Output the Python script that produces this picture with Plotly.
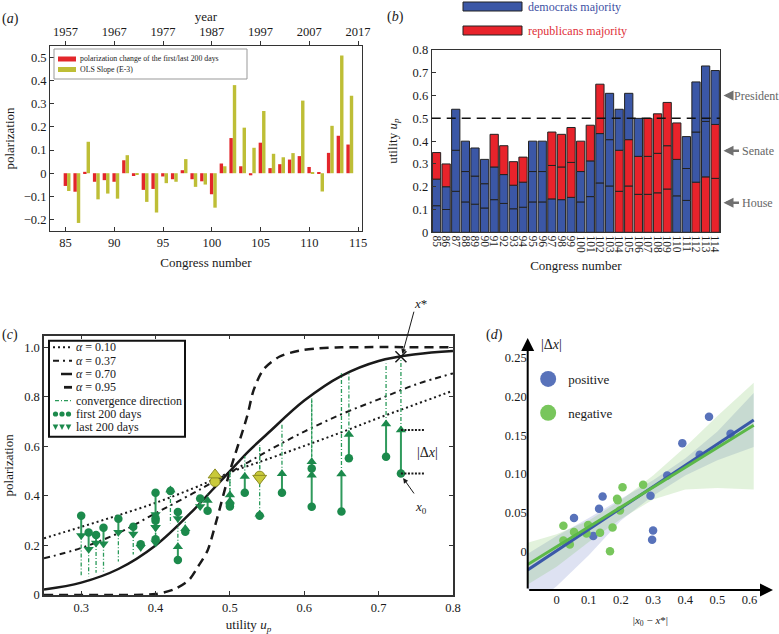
import plotly.graph_objects as go

FONT = "Liberation Serif"
INK = "#1a1a1a"

# ---------------- data ----------------
congress = list(range(85, 115))
year_ticks = [85, 90, 95, 100, 105, 110, 115]
year_labels = ["1957", "1967", "1977", "1987", "1997", "2007", "2017"]

# (a) polarization change (first/last 200 days) and OLS slope (E-3)
pol_change = [-0.055, -0.080, 0.006, -0.037, -0.030, -0.037, 0.056, -0.012, -0.072, -0.068,
              -0.014, -0.026, 0.013, -0.026, -0.035, -0.091, 0.042, 0.152, 0.030, -0.009,
              0.132, 0.022, 0.039, 0.059, 0.074, 0.027, 0.004, 0.088, 0.162, 0.124]
ols_slope = [-0.077, -0.215, 0.136, -0.113, -0.088, -0.110, 0.078, -0.004, -0.124, -0.170,
             -0.043, -0.037, 0.061, -0.059, -0.049, -0.149, 0.030, 0.381, 0.197, 0.110,
             0.269, 0.084, 0.069, 0.087, 0.314, 0.001, -0.079, 0.205, 0.509, 0.335]

# (b) utility u_p and majority party of House / Senate / President
utility = [0.35, 0.30, 0.54, 0.40, 0.37, 0.32, 0.43, 0.38, 0.31, 0.33,
           0.40, 0.40, 0.44, 0.43, 0.46, 0.40, 0.47, 0.65, 0.61, 0.54,
           0.61, 0.50, 0.50, 0.52, 0.57, 0.48, 0.42, 0.66, 0.73, 0.71]
house = list("DDDDDDDDDDDDDDDDDDDRRRRRRDDRRR")
senate = list("DDDDDDDDDDDDRRRDDDDRRRRRRDDDDR")
president = list("RRDDDDRRRRDDRRRRRRDDDDRRRRDDDD")
majority_line = 0.5

# (c) model curves x*(u_p) for several alpha
curve_u = [0.25, 0.30, 0.35, 0.40, 0.45, 0.475, 0.50, 0.525, 0.55, 0.60, 0.65, 0.70, 0.75, 0.80]
curve_a010 = [0.229, 0.275, 0.322, 0.372, 0.43, 0.462, 0.495, 0.522, 0.548, 0.602, 0.657, 0.715, 0.77, 0.825]
curve_a037 = [0.148, 0.19, 0.25, 0.33, 0.41, 0.452, 0.495, 0.537, 0.58, 0.66, 0.73, 0.79, 0.85, 0.895]
curve_a070 = [0.022, 0.05, 0.105, 0.2, 0.34, 0.42, 0.50, 0.58, 0.65, 0.785, 0.885, 0.945, 0.972, 0.985]
curve_u095 = [0.25, 0.35, 0.40, 0.425, 0.445, 0.457, 0.47, 0.481, 0.50, 0.523, 0.532, 0.545,
              0.567, 0.594, 0.616, 0.65, 0.80]
curve_a095 = [0.0, 0.0, 0.004, 0.023, 0.061, 0.114, 0.18, 0.29, 0.50, 0.72, 0.828, 0.91,
              0.963, 0.987, 0.995, 1.0, 1.0]

first200 = [0.308, 0.320, 0.320, 0.310, 0.276, 0.242, 0.141, 0.205, 0.252, 0.272,
            0.225, 0.300, 0.255, 0.335, 0.390, 0.413, 0.340, 0.337, 0.511, 0.480,
            0.356, 0.357, 0.365, 0.413, 0.413, 0.458, 0.420, 0.552, 0.491, 0.558]
last200 = [0.253, 0.240, 0.326, 0.273, 0.246, 0.210, 0.195, 0.193, 0.185, 0.207,
           0.211, 0.274, 0.268, 0.309, 0.357, 0.325, 0.382, 0.489, 0.538, 0.471,
           0.484, 0.379, 0.404, 0.478, 0.490, 0.485, 0.424, 0.648, 0.666, 0.690]
conv_target = [0.135, 0.08, 0.606, 0.2, 0.164, 0.09, 0.27, 0.17, 0.075, 0.095,
               0.2, 0.2, 0.3, 0.27, 0.37, 0.2, 0.41, 0.895, 0.794, 0.606,
               0.794, 0.5, 0.5, 0.56, 0.693, 0.45, 0.29, 0.895, 0.962, 0.935]
highlight = [104, 110]
x_star_congress = 113

# (d) |dx| against |x0 - x*|
pos_x = [0.054, 0.114, 0.132, 0.143, 0.292, 0.297, 0.300, 0.344, 0.391, 0.445, 0.474, 0.541]
pos_y = [0.043, 0.020, 0.055, 0.071, 0.072, 0.015, 0.027, 0.098, 0.140, 0.125, 0.174, 0.152]
neg_x = [0.021, 0.021, 0.041, 0.054, 0.098, 0.093, 0.135, 0.174, 0.166, 0.188, 0.190, 0.197, 0.205, 0.269]
neg_y = [0.033, 0.014, 0.009, 0.025, 0.034, 0.023, 0.024, 0.031, 0.000, 0.068, 0.066, 0.053, 0.083, 0.086]
fit_x = [-0.09, 0.613]
pos_fit = [-0.024, 0.170]
neg_fit = [-0.017, 0.163]
band_x = [-0.09, 0.0, 0.1, 0.2, 0.3, 0.4, 0.5, 0.613]
pos_hi = [-0.003, 0.02, 0.043, 0.068, 0.092, 0.12, 0.155, 0.205]
pos_lo = [-0.075, -0.045, -0.005, 0.04, 0.072, 0.098, 0.118, 0.135]
neg_hi = [0.011, 0.022, 0.04, 0.066, 0.098, 0.135, 0.175, 0.218]
neg_lo = [-0.043, -0.02, 0.012, 0.042, 0.067, 0.08, 0.082, 0.08]

# ---------------- colours ----------------
RED_A = "#e3262b"
OLIVE = "#bebe36"
BLUE_B = "#3b57a6"
RED_B = "#e8232b"
GREEN = "#1c8a4c"
YELLOW = "#c9c93a"
BLUE_D = "#3a58a8"
GREEN_D = "#5cb848"

W, H = 779, 634
def px(x):
    return x / W
def py(y):
    return 1 - y / H

fig = go.Figure()

# ---------------- (a) ----------------
fig.add_trace(go.Bar(x=congress, y=pol_change, offset=-0.2, width=0.35, marker=dict(color=RED_A, line_width=0),
                     xaxis="x", yaxis="y", showlegend=False, hoverinfo="skip"))
fig.add_trace(go.Bar(x=congress, y=ols_slope, offset=0.15, width=0.35, marker=dict(color=OLIVE, line_width=0),
                     xaxis="x", yaxis="y", showlegend=False, hoverinfo="skip"))
fig.add_trace(go.Scatter(x=congress, y=pol_change, mode="none", xaxis="x2", yaxis="y",
                         showlegend=False, hoverinfo="skip"))

# ---------------- (b) ----------------
party_col = {"D": BLUE_B, "R": RED_B}
for k, seg in enumerate([house, senate, president]):
    fig.add_trace(go.Bar(
        x=congress, y=[u / 3 for u in utility], base=[u * k / 3 for u in utility],
        width=0.86, marker=dict(color=[party_col[p] for p in seg], line=dict(color="#222", width=1)),
        xaxis="x3", yaxis="y3", showlegend=False, hoverinfo="skip"))

# ---------------- (c) ----------------
DOT = "2px,3px"
DASHDOT = "6px,4px,2px,4px"
DASH = "9px,6px"
CONV = "4px,2px,1px,2px"
fig.add_trace(go.Scatter(x=curve_u, y=curve_a010, mode="lines", line=dict(color=INK, width=2, dash=DOT, shape="spline"),
                         showlegend=False, xaxis="x4", yaxis="y4"))
fig.add_trace(go.Scatter(x=curve_u, y=curve_a037, mode="lines", line=dict(color=INK, width=2, dash=DASHDOT, shape="spline"),
                         showlegend=False, xaxis="x4", yaxis="y4"))
fig.add_trace(go.Scatter(x=curve_u, y=curve_a070, mode="lines", line=dict(color=INK, width=2.5, shape="spline"),
                         showlegend=False, xaxis="x4", yaxis="y4"))
fig.add_trace(go.Scatter(x=curve_u095, y=curve_a095, mode="lines",
                         line=dict(color=INK, width=2.5, dash=DASH, shape="spline", smoothing=0.8),
                         showlegend=False, xaxis="x4", yaxis="y4"))

cx, cy = [], []
for u, l, t in zip(utility, last200, conv_target):
    cx += [u, u, None]
    cy += [l, t, None]
fig.add_trace(go.Scatter(x=cx, y=cy, mode="lines", line=dict(color="#2a9a5a", width=1.3, dash=CONV),
                         showlegend=False, xaxis="x4", yaxis="y4", hoverinfo="skip"))

ax_, ay_ = [], []
for c, u, f, l in zip(congress, utility, first200, last200):
    if c in highlight:
        continue
    ax_ += [u, u, None]
    ay_ += [f, l, None]
fig.add_trace(go.Scatter(x=ax_, y=ay_, mode="lines", line=dict(color="#2f9a5c", width=2),
                         showlegend=False, xaxis="x4", yaxis="y4", hoverinfo="skip"))

norm = [i for i, c in enumerate(congress) if c not in highlight]
hl = [i for i, c in enumerate(congress) if c in highlight]
fig.add_trace(go.Scatter(x=[utility[i] for i in norm], y=[first200[i] for i in norm], mode="markers",
                         marker=dict(color=GREEN, size=8.5, symbol="circle"),
                         showlegend=False, xaxis="x4", yaxis="y4"))
fig.add_trace(go.Scatter(x=[utility[i] for i in norm], y=[last200[i] for i in norm], mode="markers",
                         marker=dict(color=GREEN, size=9,
                                     symbol=["triangle-up" if last200[i] > first200[i] else "triangle-down" for i in norm]),
                         showlegend=False, xaxis="x4", yaxis="y4"))
fig.add_trace(go.Scatter(x=[utility[i] for i in hl], y=[first200[i] for i in hl], mode="markers",
                         marker=dict(color=YELLOW, size=10, line=dict(color="#8c8c22", width=1)),
                         showlegend=False, xaxis="x4", yaxis="y4"))
fig.add_trace(go.Scatter(x=[utility[i] for i in hl], y=[last200[i] for i in hl], mode="markers",
                         marker=dict(color=YELLOW, size=12, line=dict(color="#8c8c22", width=1),
                                     symbol=["triangle-up" if last200[i] > first200[i] else "triangle-down" for i in hl]),
                         showlegend=False, xaxis="x4", yaxis="y4"))
xs = congress.index(x_star_congress)
fig.add_trace(go.Scatter(x=[utility[xs]], y=[conv_target[xs]], mode="markers",
                         marker=dict(symbol="x-thin", size=11, line=dict(color=INK, width=1.5)),
                         showlegend=False, xaxis="x4", yaxis="y4"))

# ---------------- (d) ----------------
fig.add_trace(go.Scatter(x=band_x + band_x[::-1], y=pos_hi + pos_lo[::-1], fill="toself", mode="none",
                         fillcolor="rgba(90,110,190,0.20)", showlegend=False, xaxis="x5", yaxis="y5", hoverinfo="skip"))
fig.add_trace(go.Scatter(x=band_x + band_x[::-1], y=neg_hi + neg_lo[::-1], fill="toself", mode="none",
                         fillcolor="rgba(110,190,80,0.20)", showlegend=False, xaxis="x5", yaxis="y5", hoverinfo="skip"))
fig.add_trace(go.Scatter(x=pos_x, y=pos_y, mode="markers", marker=dict(color="#5872ba", size=8.5),
                         showlegend=False, xaxis="x5", yaxis="y5"))
fig.add_trace(go.Scatter(x=neg_x, y=neg_y, mode="markers", marker=dict(color="#78c65c", size=8.5),
                         showlegend=False, xaxis="x5", yaxis="y5"))
fig.add_trace(go.Scatter(x=fit_x, y=pos_fit, mode="lines", line=dict(color=BLUE_D, width=3),
                         showlegend=False, xaxis="x5", yaxis="y5"))
fig.add_trace(go.Scatter(x=fit_x, y=neg_fit, mode="lines", line=dict(color=GREEN_D, width=3),
                         showlegend=False, xaxis="x5", yaxis="y5"))
fig.add_trace(go.Scatter(x=[None], y=[None], mode="markers", marker=dict(color="#5872ba", size=16),
                         name="positive", legend="legend3", legendgroup="p", xaxis="x5", yaxis="y5"))
fig.add_trace(go.Scatter(x=[None], y=[None], mode="markers", marker=dict(color="#78c65c", size=16),
                         name="negative", legend="legend3", legendgroup="n", xaxis="x5", yaxis="y5"))

# ---------------- layout ----------------
tf = dict(family=FONT, size=12.5, color=INK)
ttl = dict(family=FONT, size=13, color=INK)
frame = dict(showline=True, linecolor="#333", linewidth=1, showgrid=False, zeroline=False, tickfont=tf,
             ticklen=4, tickcolor="#333", automargin=False)

layout = dict(
    width=W, height=H, margin=dict(l=0, r=0, t=0, b=0),
    paper_bgcolor="white", plot_bgcolor="white", barmode="overlay",
    font=dict(family=FONT, color=INK),
    xaxis=dict(domain=[0.0642, 0.4647], range=[83.4, 115.4], anchor="y", tickvals=year_ticks,
               ticks="inside", mirror=True, title=dict(text="Congress number", font=ttl, standoff=8), **frame),
    xaxis2=dict(overlaying="x", side="top", anchor="y", range=[83.4, 115.4], tickvals=year_ticks,
                ticktext=year_labels, ticks="outside", showgrid=False, zeroline=False, tickfont=tf,
                ticklen=4, tickcolor="#333", automargin=False, title=dict(text="year", font=ttl, standoff=0)),
    yaxis=dict(domain=[0.6356, 0.9274], range=[-0.25, 0.55], anchor="x", tick0=0, dtick=0.1,
               ticks="inside", mirror=True, title=dict(text="polarization", font=ttl, standoff=6), **frame),
    xaxis3=dict(domain=[0.5542, 0.9243], range=[84.5, 114.5], anchor="y3", tickvals=congress,
                ticktext=[str(c) for c in congress], tickangle=90, ticks="", mirror=True,
                title=dict(text="Congress number", font=ttl, standoff=8),
                **{**frame, "tickfont": dict(family=FONT, size=11.5, color=INK)}),
    yaxis3=dict(domain=[0.6336, 0.9211], range=[0, 0.8], anchor="x3", dtick=0.1, ticks="inside", mirror=True,
                title=dict(text="utility <i>u</i><sub><i>p</i></sub>", font=ttl, standoff=12), **frame),
    xaxis4=dict(domain=[0.0565, 0.5815], range=[0.25, 0.8], anchor="y4", tickvals=[0.3, 0.4, 0.5, 0.6, 0.7, 0.8],
                ticks="inside", mirror="ticks", title=dict(text="utility <i>u</i><sub><i>p</i></sub>", font=ttl, standoff=6),
                **{**frame, "linewidth": 1.5}),
    yaxis4=dict(domain=[0.0615, 0.4705], range=[0, 1.047], anchor="x4", tickvals=[0, 0.2, 0.4, 0.6, 0.8, 1.0],
                ticktext=["0", "0.2", "0.4", "0.6", "0.8", "1.0"], ticks="inside", mirror="ticks",
                title=dict(text="polarization", font=ttl, standoff=8), **{**frame, "linewidth": 1.5}),
    xaxis5=dict(domain=[0.6774, 0.9923], range=[-0.09, 0.673], anchor="y5", tickvals=[0, 0.1, 0.2, 0.3, 0.4, 0.5, 0.6],
                ticktext=["0", "0.1", "0.2", "0.3", "0.4", "0.5", "0.6"], showline=False, showgrid=False,
                zeroline=False, ticks="", tickfont=tf, automargin=False,
                title=dict(text="|<i>x</i><sub>0</sub> − <i>x</i>*|", font=dict(family=FONT, size=11, color=INK), standoff=10)),
    yaxis5=dict(domain=[0.0694, 0.4669], range=[-0.05, 0.276], anchor="x5",
                tickvals=[0, 0.05, 0.10, 0.15, 0.20, 0.25], ticktext=["0", "0.05", "0.10", "0.15", "0.20", "0.25"],
                showline=False, showgrid=False, zeroline=False, ticks="", tickfont=tf, automargin=False),
    legend3=dict(x=0.678, y=py(364), xanchor="left", yanchor="top", bgcolor="rgba(0,0,0,0)", borderwidth=0,
                 font=dict(family=FONT, size=13, color=INK), itemwidth=30, tracegroupgap=14),
)

shapes = [
    dict(type="line", xref="x3 domain", yref="y3", x0=0, x1=1, y0=majority_line, y1=majority_line,
         line=dict(color="#111", width=1.5, dash="9px,6px")),
    # (b) party key
    dict(type="rect", xref="paper", yref="paper", x0=px(463), x1=px(522), y0=py(11), y1=py(2),
         fillcolor=BLUE_B, line=dict(color="#222", width=1)),
    dict(type="rect", xref="paper", yref="paper", x0=px(463), x1=px(522), y0=py(35), y1=py(26),
         fillcolor=RED_B, line=dict(color="#222", width=1)),
    # (c) |dx| guides
    dict(type="line", xref="x4", yref="y4", x0=utility[xs], x1=utility[xs] + 0.032,
         y0=last200[xs], y1=last200[xs], line=dict(color=INK, width=2, dash="2px,1.5px")),
    dict(type="line", xref="x4", yref="y4", x0=utility[xs], x1=utility[xs] + 0.032,
         y0=first200[xs], y1=first200[xs], line=dict(color=INK, width=2, dash="2px,1.5px")),
    # (a) key
    dict(type="rect", xref="paper", yref="paper", x0=px(54), x1=px(247), y0=py(79), y1=py(49),
         fillcolor="white", line=dict(color="#999", width=1)),
    dict(type="rect", xref="paper", yref="paper", x0=px(58), x1=px(76), y0=py(61.5), y1=py(56.5),
         fillcolor=RED_A, line_width=0),
    dict(type="rect", xref="paper", yref="paper", x0=px(58), x1=px(76), y0=py(72), y1=py(67),
         fillcolor=OLIVE, line_width=0),
    # (c) key box
    dict(type="rect", xref="paper", yref="paper", x0=px(49), x1=px(185), y0=py(436.7), y1=py(340.7),
         fillcolor="white", line=dict(color="#111", width=2)),
]

ann = []
def text(t, x, y, size=13, color=INK, xanchor="left", yanchor="middle"):
    ann.append(dict(text=t, x=x, y=y, xref="paper", yref="paper", xanchor=xanchor, yanchor=yanchor,
                    showarrow=False, font=dict(family=FONT, size=size, color=color)))

text("(<i>a</i>)", 0.0, py(9), 14, yanchor="top")
text("(<i>b</i>)", px(385), py(7), 14, yanchor="top")
text("(<i>c</i>)", 0.0, py(325), 14, yanchor="top")
text("(<i>d</i>)", px(484), py(325), 14, yanchor="top")

text("polarization change of the first/last 200 days", px(78), py(59), 7.8)
text("OLS Slope (E-3)", px(78), py(69.5), 7.8)

text("democrats majority", px(526), py(6.5), 12, "#3d4fa3")
text("republicans majority", px(526), py(30.5), 12, "#e03038")

for name, yv, tx in [("President", 0.6, 732), ("Senate", 0.358, 740), ("House", 0.13, 740)]:
    ann.append(dict(text="", x=1.012, y=yv, xref="x3 domain", yref="y3", ax=tx - 723, ay=0, showarrow=True,
                    arrowhead=2, arrowsize=0.8, arrowwidth=2.5, arrowcolor="#707070"))
    ann.append(dict(text=name, x=px(tx), y=yv, xref="paper", yref="y3", xanchor="left", yanchor="middle",
                    showarrow=False, font=dict(family=FONT, size=12, color="#666")))

# (c) key entries
rows = [347.3, 360.7, 374, 387.3, 400.7, 414, 427.3]
key_lines = [(53, 72, DOT, 2, INK), (53, 72, DASHDOT, 2, INK), (61, 72, "solid", 2.5, INK),
             (64, 72, "solid", 2.8, INK), (55, 71, CONV, 1.3, "#2a9a5a")]
for (x0, x1, dash, w, col), yy in zip(key_lines, rows):
    shapes.append(dict(type="line", xref="paper", yref="paper", x0=px(x0), x1=px(x1), y0=py(yy), y1=py(yy),
                       line=dict(color=col, width=w, dash=dash)))
for cxp in [55.5, 62, 68.5]:
    r = 2.6
    shapes.append(dict(type="circle", xref="paper", yref="paper", x0=px(cxp - r), x1=px(cxp + r),
                       y0=py(rows[5] + r), y1=py(rows[5] - r), fillcolor=GREEN, line_width=0))
    t = 2.8
    shapes.append(dict(type="path", xref="paper", yref="paper", fillcolor=GREEN, line_width=0,
                       path=f"M{px(cxp - t)},{py(rows[6] - t)} L{px(cxp + t)},{py(rows[6] - t)} L{px(cxp)},{py(rows[6] + t)} Z"))
key_text = ["<i>α</i> = 0.10", "<i>α</i> = 0.37", "<i>α</i> = 0.70", "<i>α</i> = 0.95",
            "convergence direction", "first 200 days", "last 200 days"]
for t_, yy in zip(key_text, rows):
    text(t_, px(73.5), py(yy), 12)

# (c) annotations
ann.append(dict(text="", x=0.732, y=0.973, xref="x4", yref="y4", ax=0.748, ay=1.15, axref="x4", ayref="y4",
                showarrow=True, arrowhead=2, arrowsize=1, arrowwidth=1, arrowcolor=INK))
text("<i>x</i>*", px(420), py(303), 13, xanchor="center")
ann.append(dict(text="", x=0.733, y=0.472, xref="x4", yref="y4", ax=0.749, ay=0.404, axref="x4", ayref="y4",
                showarrow=True, arrowhead=2, arrowsize=1, arrowwidth=1, arrowcolor=INK))
ann.append(dict(text="<i>x</i><sub>0</sub>", x=0.757, y=0.355, xref="x4", yref="y4", showarrow=False,
                font=dict(family=FONT, size=13, color=INK)))
ann.append(dict(text="|Δ<i>x</i>|", x=0.766, y=0.577, xref="x4", yref="y4", showarrow=False,
                font=dict(family=FONT, size=14, color=INK)))

# (d) arrow axes
ann.append(dict(text="", x=0.673, y=-0.05, xref="x5", yref="y5", ax=-0.09, ay=-0.05, axref="x5", ayref="y5",
                showarrow=True, arrowhead=2, arrowsize=1.3, arrowwidth=2, arrowcolor="#000"))
ann.append(dict(text="", x=-0.09, y=0.276, xref="x5", yref="y5", ax=-0.09, ay=-0.05, axref="x5", ayref="y5",
                showarrow=True, arrowhead=2, arrowsize=1.3, arrowwidth=2, arrowcolor="#000"))
text("|Δ<i>x</i>|", px(539), py(345), 14)

layout["shapes"] = shapes
layout["annotations"] = ann
fig.update_layout(**layout)

# the page's default body margin would shift the whole figure by 8px
fig.write_html("out.html", config={"displayModeBar": False},
               post_script="document.body.style.margin='0px';")
